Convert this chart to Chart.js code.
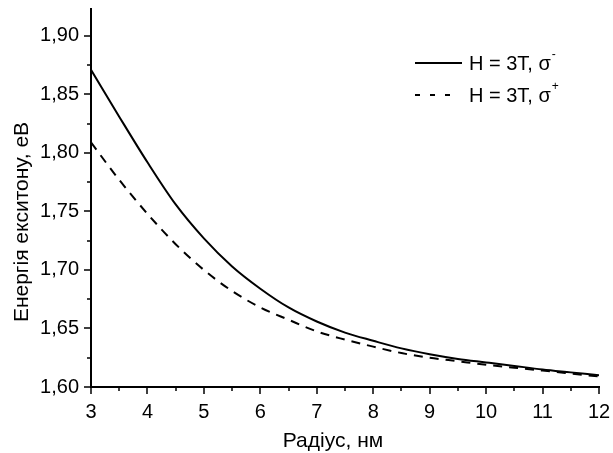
<!DOCTYPE html>
<html>
<head>
<meta charset="utf-8">
<script src="https://cdn.jsdelivr.net/npm/chart.js"></script>
<style>
  html, body { margin: 0; padding: 0; background: #fff; }
  #wrap { width: 613px; height: 453px; }
</style>
</head>
<body>
<div id="wrap"><canvas id="c" width="613" height="453"></canvas></div>
<script>
// radius, nm
const radius = [3, 3.5, 4, 4.5, 5, 5.5, 6, 6.5, 7, 7.5, 8, 8.5, 9, 9.5, 10, 10.5, 11, 11.5, 12];
// H = 3T, sigma-
const sigmaMinus = [1.871, 1.831, 1.792, 1.756, 1.727, 1.703, 1.684, 1.668, 1.656, 1.6465, 1.6395, 1.633, 1.628, 1.624, 1.621, 1.618, 1.615, 1.6125, 1.610];
// H = 3T, sigma+
const sigmaPlus = [1.809, 1.777, 1.748, 1.722, 1.700, 1.682, 1.668, 1.6575, 1.6475, 1.6405, 1.6345, 1.629, 1.625, 1.622, 1.619, 1.6165, 1.614, 1.6115, 1.609];

const xTicks = [3, 4, 5, 6, 7, 8, 9, 10, 11, 12];
const yTicks = [1.60, 1.65, 1.70, 1.75, 1.80, 1.85, 1.90];
const xMinor = [3.5, 4.5, 5.5, 6.5, 7.5, 8.5, 9.5, 10.5, 11.5];
const yMinor = [1.625, 1.675, 1.725, 1.775, 1.825, 1.875];

const xTitle = 'Радіус, нм';
const yTitle = 'Енергія екситону, еВ';

const FONT = "'Liberation Sans', Arial, sans-serif";

const pts = (ys) => radius.map((r, i) => ({ x: r, y: ys[i] }));

// outward tick marks, axis titles, legend
const extras = {
  id: 'extras',
  afterDraw(chart) {
    const ctx = chart.ctx;
    const xs = chart.scales.x, ys = chart.scales.y;
    const a = chart.chartArea;
    ctx.save();
    ctx.strokeStyle = '#000';
    ctx.lineWidth = 1.5;
    ctx.beginPath();
    xTicks.forEach(v => { const p = Math.round(xs.getPixelForValue(v)); ctx.moveTo(p, a.bottom); ctx.lineTo(p, a.bottom + 7); });
    xMinor.forEach(v => { const p = Math.round(xs.getPixelForValue(v)); ctx.moveTo(p, a.bottom); ctx.lineTo(p, a.bottom + 4); });
    yTicks.forEach(v => { const p = Math.round(ys.getPixelForValue(v)); ctx.moveTo(a.left, p); ctx.lineTo(a.left - 7, p); });
    yMinor.forEach(v => { const p = Math.round(ys.getPixelForValue(v)); ctx.moveTo(a.left, p); ctx.lineTo(a.left - 4, p); });
    ctx.stroke();

    // axis titles
    ctx.fillStyle = '#000';
    ctx.font = '21px ' + FONT;
    ctx.textAlign = 'center';
    ctx.textBaseline = 'alphabetic';
    ctx.fillText(xTitle, 333, 447);
    ctx.save();
    ctx.translate(28, 222);
    ctx.rotate(-Math.PI / 2);
    ctx.fillText(yTitle, 0, 0);
    ctx.restore();

    // legend
    ctx.textAlign = 'left';
    const rows = [
      { y: 63, dash: [], end: 462, sup: '-' },
      { y: 95, dash: [5, 10], end: 450, sup: '+' }
    ];
    rows.forEach(r => {
      ctx.setLineDash(r.dash);
      ctx.lineWidth = 2;
      ctx.beginPath();
      ctx.moveTo(415, r.y);
      ctx.lineTo(r.end, r.y);
      ctx.stroke();
      ctx.setLineDash([]);
      ctx.textBaseline = 'middle';
      ctx.font = '20px ' + FONT;
      const txt = 'H = 3T, σ';
      ctx.fillText(txt, 469, r.y + 1);
      const w = ctx.measureText(txt).width;
      ctx.font = '12px ' + FONT;
      ctx.fillText(r.sup, 469 + w + 1, r.y - 8);
    });
    ctx.restore();
  }
};

new Chart(document.getElementById('c'), {
  type: 'line',
  data: {
    datasets: [
      { data: pts(sigmaMinus), borderColor: '#000', borderWidth: 2, pointRadius: 0, cubicInterpolationMode: 'monotone', fill: false },
      { data: pts(sigmaPlus), borderColor: '#000', borderWidth: 2, borderDash: [9, 7], pointRadius: 0, cubicInterpolationMode: 'monotone', fill: false }
    ]
  },
  options: {
    responsive: false,
    animation: false,
    layout: { padding: { left: 0, right: 14, top: 9, bottom: 0 } },
    plugins: { legend: { display: false }, tooltip: { enabled: false } },
    scales: {
      x: {
        type: 'linear',
        min: 3, max: 12,
        afterFit(s) { s.height = 66; s.paddingLeft = 0; s.paddingRight = 0; },
        afterBuildTicks(s) { s.ticks = xTicks.map(v => ({ value: v })); },
        grid: { display: false },
        border: { display: true, color: '#000', width: 2 },
        ticks: { color: '#000', padding: 5, font: { family: FONT, size: 20 }, callback: v => String(v), maxRotation: 0, autoSkip: false }
      },
      y: {
        min: 1.6, max: 1.923,
        afterFit(s) { s.width = 91; s.paddingTop = 0; s.paddingBottom = 0; },
        afterBuildTicks(s) { s.ticks = yTicks.map(v => ({ value: v })); },
        grid: { display: false },
        border: { display: true, color: '#000', width: 2 },
        ticks: { color: '#000', padding: 4, font: { family: FONT, size: 20 }, callback: v => v.toFixed(2).replace('.', ','), autoSkip: false }
      }
    }
  },
  plugins: [extras]
});
</script>
</body>
</html>
